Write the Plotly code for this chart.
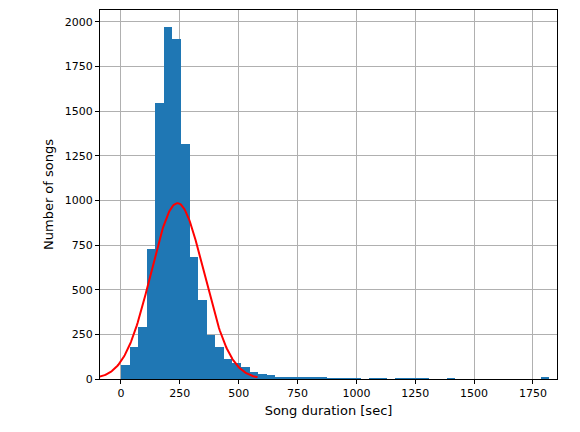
import numpy as np
import plotly.graph_objects as go

# histogram: 50 bins of equal width starting at 0 sec
bin_start = 0.0
bin_width = 36.4
counts = [80, 177, 290, 728, 1545, 1970, 1905, 1315, 683, 442,
          246, 177, 112, 88, 68, 38, 30, 22, 12, 12,
          10, 10, 6, 10, 5, 5, 5, 5, 0, 5,
          5, 0, 5, 5, 5, 5, 0, 0, 4, 0,
          0, 0, 0, 0, 0, 0, 0, 0, 0, 8]

# fitted normal curve (scaled to counts)
fit_mean = 240
fit_sigma = 112
fit_peak = 985
fit_x = np.linspace(-100, 580, 200)
fit_y = fit_peak * np.exp(-0.5 * ((fit_x - fit_mean) / fit_sigma) ** 2)

centers = [bin_start + bin_width * (i + 0.5) for i in range(len(counts))]

fig = go.Figure()
fig.add_trace(go.Bar(x=centers, y=counts, width=bin_width, marker_color="#1f77b4",
                     marker_line_width=0, showlegend=False))
fig.add_trace(go.Scatter(x=fit_x, y=fit_y, mode="lines", line=dict(color="red", width=2),
                         showlegend=False))

axis_style = dict(showgrid=True, gridcolor="#b0b0b0", gridwidth=1, showline=True, mirror=True,
                  linecolor="black", linewidth=1, ticks="outside", ticklen=4, tickcolor="black",
                  zeroline=False, tickfont=dict(size=11, color="black"))
# page body has an 8px margin, so the figure is a bit smaller than the window
fig.update_layout(
    width=572, height=424, template="none", plot_bgcolor="white", paper_bgcolor="white",
    margin=dict(l=92, r=23, t=2, b=53), bargap=0,
    font=dict(family="DejaVu Sans", size=11, color="black"),
    xaxis=dict(range=[-89, 1852], tickvals=[0, 250, 500, 750, 1000, 1250, 1500, 1750],
               title=dict(text="Song duration [sec]", standoff=6), **axis_style),
    yaxis=dict(range=[0, 2067], tickvals=[0, 250, 500, 750, 1000, 1250, 1500, 1750, 2000],
               title=dict(text="Number of songs", standoff=8), **axis_style),
)
fig.write_html("out.html")
